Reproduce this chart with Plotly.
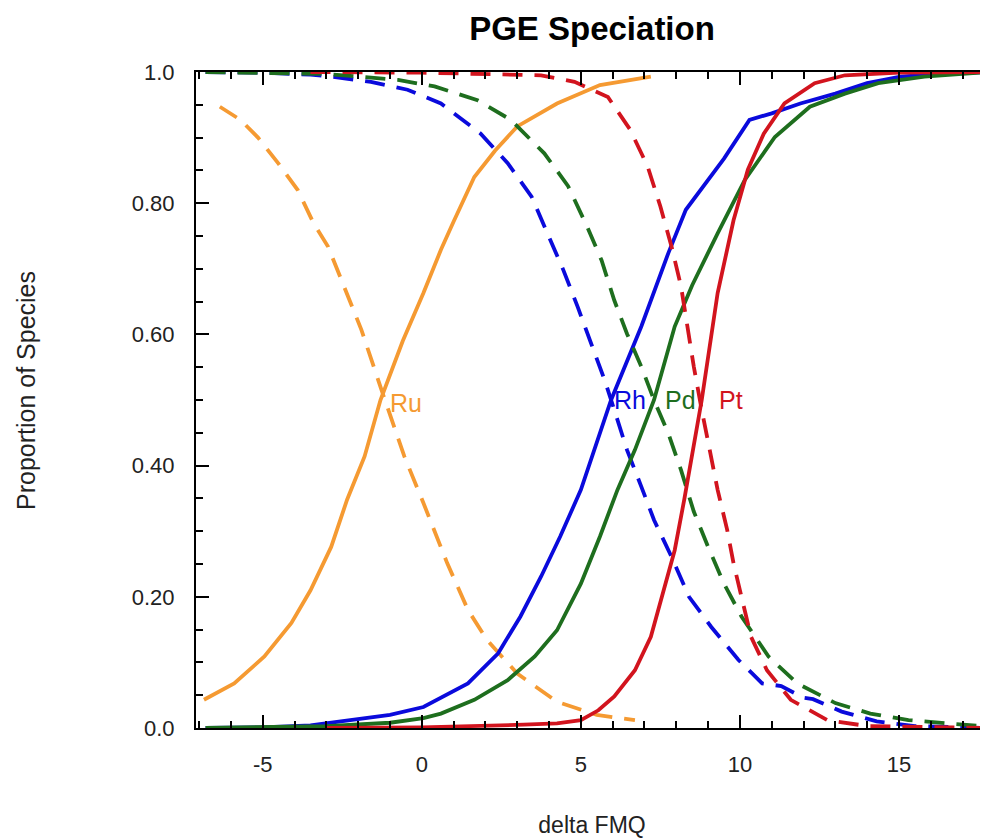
import plotly.graph_objects as go

# ---- data ----
ru_solid_x = [-6.85, -5.9, -4.95, -4.1, -3.5, -2.85, -2.35, -1.8, -1.3, -0.6, 0.05, 0.6, 1.0, 1.65, 2.3, 3.0, 4.25, 5.6, 7.2]
ru_solid_y = [0.043, 0.068, 0.109, 0.16, 0.21, 0.276, 0.348, 0.414, 0.5, 0.59, 0.663, 0.729, 0.772, 0.84, 0.88, 0.917, 0.952, 0.98, 0.993]
ru_dash_x = [-6.35, -5.7, -5.15, -4.5, -3.9, -3.4, -2.95, -2.35, -1.9, -1.3, -0.95, -0.55, 0.05, 0.8, 1.45, 2.05, 3.0, 4.25, 5.5, 6.7]
ru_dash_y = [0.947, 0.927, 0.9, 0.86, 0.82, 0.769, 0.734, 0.663, 0.607, 0.52, 0.47, 0.414, 0.343, 0.251, 0.18, 0.134, 0.083, 0.04, 0.02, 0.012]

rh_solid_x = [-6.8, -5, -3.5, -2.85, -2, -1.0, 0.05, 0.6, 1.45, 2.4, 3.1, 3.75, 4.35, 5.0, 5.5, 5.95, 6.9, 7.75, 8.3, 9.5, 10.3, 11.0, 11.9, 13.0, 14.0, 15.05, 16.5, 17.8]
rh_solid_y = [0.0, 0.001, 0.004, 0.008, 0.013, 0.02, 0.032, 0.046, 0.068, 0.114, 0.17, 0.231, 0.292, 0.363, 0.434, 0.5, 0.612, 0.724, 0.79, 0.868, 0.927, 0.937, 0.952, 0.967, 0.983, 0.993, 0.998, 1.0]
rh_dash_x = [-6.8, -5, -3.5, -2.85, -1.6, -0.45, 0.6, 1.85, 2.7, 3.45, 3.95, 4.45, 4.9, 5.3, 5.75, 6.05, 6.45, 6.9, 7.3, 7.85, 8.4, 9.1, 9.95, 10.7, 11.3, 12.0, 12.3, 13.2, 14.3, 15.5, 17.8]
rh_dash_y = [1.0, 0.999, 0.996, 0.993, 0.985, 0.973, 0.952, 0.906, 0.861, 0.81, 0.754, 0.698, 0.642, 0.591, 0.53, 0.485, 0.424, 0.368, 0.317, 0.261, 0.2, 0.154, 0.104, 0.068, 0.064, 0.046, 0.044, 0.025, 0.01, 0.003, 0.0]

pd_solid_x = [-6.8, -3, -1.0, 0.05, 0.6, 1.65, 2.7, 3.55, 4.25, 5.0, 5.6, 6.15, 6.7, 7.3, 7.95, 8.5, 9.3, 10.15, 11.1, 12.2, 13.3, 14.35, 15.8, 17.8]
pd_solid_y = [0.0, 0.003, 0.008, 0.015, 0.022, 0.043, 0.073, 0.109, 0.149, 0.22, 0.292, 0.363, 0.424, 0.5, 0.612, 0.675, 0.754, 0.835, 0.901, 0.947, 0.967, 0.983, 0.993, 1.0]
pd_dash_x = [-6.8, -3, -0.75, 0.4, 1.75, 2.8, 3.85, 4.6, 5.2, 5.65, 6.05, 6.45, 6.9, 7.3, 7.75, 8.15, 8.55, 9.0, 9.5, 10.05, 10.9, 11.8, 13.0, 14.1, 15.3, 16.4, 17.8]
pd_dash_y = [1.0, 0.997, 0.988, 0.978, 0.957, 0.927, 0.876, 0.826, 0.764, 0.713, 0.652, 0.601, 0.551, 0.5, 0.449, 0.393, 0.33, 0.276, 0.22, 0.17, 0.109, 0.068, 0.038, 0.022, 0.012, 0.007, 0.002]

pt_solid_x = [-3, 0, 3.2, 4.25, 5.0, 5.55, 6.05, 6.7, 7.2, 7.6, 7.95, 8.25, 8.55, 8.8, 9.3, 9.8, 10.25, 10.75, 11.4, 12.35, 13.3, 15, 17.8]
pt_solid_y = [0.0, 0.001, 0.005, 0.007, 0.012, 0.027, 0.048, 0.088, 0.139, 0.21, 0.271, 0.348, 0.429, 0.5, 0.663, 0.774, 0.851, 0.906, 0.952, 0.983, 0.995, 0.999, 1.0]
pt_dash_x = [-3.5, 0, 3.75, 4.8, 5.85, 6.55, 7.1, 7.5, 7.85, 8.15, 8.35, 8.55, 8.8, 9.1, 9.3, 9.6, 9.8, 10.05, 10.35, 10.85, 11.6, 12.75, 14, 17.8]
pt_dash_y = [1.0, 0.999, 0.995, 0.985, 0.962, 0.912, 0.856, 0.795, 0.734, 0.673, 0.612, 0.551, 0.485, 0.414, 0.363, 0.302, 0.251, 0.2, 0.139, 0.088, 0.043, 0.012, 0.003, 0.0]

labels = ["Ru", "Rh", "Pd", "Pt"]
label_x = [-1.0, 6.05, 7.65, 9.35]
label_y = [0.495, 0.50, 0.50, 0.50]

y_tickvals = [0, 0.2, 0.4, 0.6, 0.8, 1.0]
y_ticktext = ["0.0", "0.20", "0.40", "0.60", "0.80", "1.0"]
x_tickvals = [-5, 0, 5, 10, 15]
x_ticktext = ["-5", "0", "5", "10", "15"]

colors = {"Ru": "#F59A32", "Rh": "#0A0ADC", "Pd": "#1E6E1E", "Pt": "#D2141E"}
FONT = "Liberation Sans, Arial, sans-serif"
LW = 3.8
DASH = "20px,12px"

series = [
    ("Ru", ru_solid_x, ru_solid_y, ru_dash_x, ru_dash_y),
    ("Rh", rh_solid_x, rh_solid_y, rh_dash_x, rh_dash_y),
    ("Pd", pd_solid_x, pd_solid_y, pd_dash_x, pd_dash_y),
    ("Pt", pt_solid_x, pt_solid_y, pt_dash_x, pt_dash_y),
]

fig = go.Figure()
for name, sx, sy, dx, dy in series:
    fig.add_trace(go.Scatter(x=dx, y=dy, mode="lines", name=name + " oxidized",
                             line=dict(color=colors[name], width=LW, dash=DASH)))
    fig.add_trace(go.Scatter(x=sx, y=sy, mode="lines", name=name,
                             line=dict(color=colors[name], width=LW)))

for t, lx, ly in zip(labels, label_x, label_y):
    fig.add_annotation(x=lx, y=ly, text=t, showarrow=False, xanchor="left", yanchor="middle",
                       xshift=-2, font=dict(family=FONT, size=25, color=colors[t]))

# y-axis title placed as a rotated annotation
fig.add_annotation(xref="paper", yref="paper", x=0, y=0.5, xshift=-170, yshift=9,
                   text="Proportion of Species", textangle=-90, showarrow=False,
                   xanchor="center", yanchor="middle",
                   font=dict(family=FONT, size=25, color="#222"))

# page body has an 8px margin, so the figure is 8px smaller than the window
W, H = 980, 830
fig.update_layout(
    width=W, height=H,
    margin=dict(l=188, r=0, t=64, b=110),
    paper_bgcolor="white", plot_bgcolor="white",
    showlegend=False,
    title=dict(text="<b>PGE Speciation</b>", x=0.5, xref="paper", xanchor="center",
               y=1 - 20 / H, yref="container", yanchor="middle",
               font=dict(family=FONT, size=33, color="black")),
    xaxis=dict(range=[-7.1, 17.8], tickvals=x_tickvals, ticktext=x_ticktext,
               ticks="inside", ticklen=13, tickwidth=2, tickcolor="black",
               showline=True, linecolor="black", linewidth=2, mirror="allticks",
               showgrid=False, zeroline=False,
               minor=dict(dtick=1, tick0=0, ticks="inside", ticklen=7, tickwidth=2, tickcolor="black"),
               tickfont=dict(family=FONT, size=22, color="#222"),
               ticklabelstandoff=16,
               title=dict(text="delta FMQ", font=dict(family=FONT, size=23, color="#222"), standoff=40)),
    yaxis=dict(range=[0, 1], tickvals=y_tickvals, ticktext=y_ticktext,
               ticks="inside", ticklen=13, tickwidth=2, tickcolor="black",
               showline=True, linecolor="black", linewidth=2, mirror=False,
               showgrid=False, zeroline=False,
               minor=dict(dtick=0.05, tick0=0, ticks="inside", ticklen=7, tickwidth=2, tickcolor="black"),
               tickfont=dict(family=FONT, size=22, color="#222"),
               ticklabelstandoff=15),
    yaxis2=dict(range=[0, 1], overlaying="y", side="right", tickvals=y_tickvals,
                ticks="inside", ticklen=7, tickwidth=2, tickcolor="black",
                showticklabels=False, showline=False, showgrid=False, zeroline=False),
)

fig.write_html("out.html")
